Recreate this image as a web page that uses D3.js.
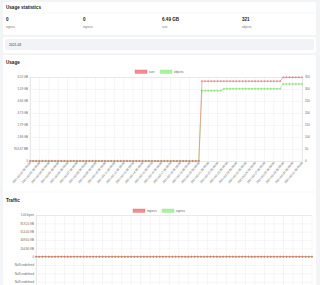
<!DOCTYPE html>
<html>
<head>
<meta charset="utf-8">
<script src="https://cdn.jsdelivr.net/npm/d3@7"></script>
<style>
  body { margin: 0; background: #f3f4f6; font-family: "Liberation Sans", Arial, sans-serif; }
  svg { display: block; }
</style>
</head>
<body>
<svg id="chart" width="320" height="285"></svg>
<script>
// summary numbers
const statValues = ["0", "0", "6.49 GB", "321"]
const statNames = ["egress", "ingress", "size", "objects"]
const month = "2021-03"

// time axis (every 8 hours)
const timeLabels = [
  "2021-03-02 08:00:00","2021-03-02 16:00:00",
  "2021-03-03 00:00:00","2021-03-03 08:00:00","2021-03-03 16:00:00",
  "2021-03-04 00:00:00","2021-03-04 08:00:00","2021-03-04 16:00:00",
  "2021-03-05 00:00:00","2021-03-05 08:00:00","2021-03-05 16:00:00",
  "2021-03-06 00:00:00","2021-03-06 08:00:00","2021-03-06 16:00:00",
  "2021-03-07 00:00:00","2021-03-07 08:00:00","2021-03-07 16:00:00",
  "2021-03-08 00:00:00","2021-03-08 08:00:00","2021-03-08 16:00:00",
  "2021-03-09 00:00:00","2021-03-09 08:00:00","2021-03-09 16:00:00",
  "2021-03-10 00:00:00","2021-03-10 08:00:00","2021-03-10 16:00:00",
  "2021-03-11 00:00:00","2021-03-11 08:00:00","2021-03-11 16:00:00",
  "2021-03-12 00:00:00","2021-03-12 08:00:00","2021-03-12 16:00:00",
  "2021-03-13 00:00:00","2021-03-13 08:00:00","2021-03-13 16:00:00",
  "2021-03-14 00:00:00","2021-03-14 08:00:00","2021-03-14 16:00:00",
  "2021-03-15 00:00:00","2021-03-15 08:00:00","2021-03-15 16:00:00",
  "2021-03-16 00:00:00","2021-03-16 08:00:00","2021-03-16 16:00:00",
  "2021-03-17 00:00:00","2021-03-17 08:00:00","2021-03-17 16:00:00",
  "2021-03-18 00:00:00","2021-03-18 08:00:00","2021-03-18 16:00:00",
  "2021-03-19 00:00:00","2021-03-19 08:00:00","2021-03-19 16:00:00",
  "2021-03-20 00:00:00","2021-03-20 08:00:00","2021-03-20 16:00:00",
  "2021-03-21 00:00:00","2021-03-21 08:00:00","2021-03-21 16:00:00",
  "2021-03-22 00:00:00","2021-03-22 08:00:00","2021-03-22 16:00:00",
  "2021-03-23 00:00:00","2021-03-23 08:00:00","2021-03-23 16:00:00",
  "2021-03-24 00:00:00","2021-03-24 08:00:00","2021-03-24 16:00:00",
  "2021-03-25 00:00:00","2021-03-25 08:00:00","2021-03-25 16:00:00",
  "2021-03-26 00:00:00","2021-03-26 08:00:00","2021-03-26 16:00:00",
  "2021-03-27 00:00:00","2021-03-27 08:00:00","2021-03-27 16:00:00",
  "2021-03-28 00:00:00","2021-03-28 08:00:00","2021-03-28 16:00:00",
  "2021-03-29 00:00:00","2021-03-29 08:00:00","2021-03-29 16:00:00",
  "2021-03-30 00:00:00","2021-03-30 08:00:00","2021-03-30 16:00:00",
  "2021-03-31 00:00:00","2021-03-31 08:00:00"
]

// usage: bytes stored
const sizeValues = [
  0,0,0,0,0,0,0,0,0,0, 0,0,0,0,0,0,0,0,0,0,
  0,0,0,0,0,0,0,0,0,0, 0,0,0,0,0,0,0,0,0,0,
  0,0,0,0,0,0,0,0,0,0, 0,0,0,0,0,
  6.65e9,6.65e9,6.65e9,6.65e9,6.65e9,6.65e9,6.65e9,
  6.65e9,6.65e9,6.65e9,6.65e9,6.65e9,6.65e9,6.65e9,6.65e9,6.65e9,6.65e9,
  6.65e9,6.65e9,6.65e9,6.65e9,6.65e9,6.65e9,6.65e9,6.65e9,6.65e9,
  6.97e9,6.97e9,6.97e9,6.97e9,6.97e9,6.97e9,6.97e9
]
// usage: object count
const objectValues = [
  0,0,0,0,0,0,0,0,0,0, 0,0,0,0,0,0,0,0,0,0,
  0,0,0,0,0,0,0,0,0,0, 0,0,0,0,0,0,0,0,0,0,
  0,0,0,0,0,0,0,0,0,0, 0,0,0,0,0,
  293,293,293,293,293,293,293,
  301,301,301,301,301,301,301,301,301,301,
  301,301,301,301,301,301,301,301,301,
  321,321,321,321,321,321,321
]
const sizeTicks = [0, 1e9, 2e9, 3e9, 4e9, 5e9, 6e9, 7e9]
const objectTicks = [0, 50, 100, 150, 200, 250, 300, 350]

// traffic
const ingressValues = [
  0,0,0,0,0,0,0,0,0,0, 0,0,0,0,0,0,0,0,0,0, 0,0,0,0,0,0,0,0,0,0,
  0,0,0,0,0,0,0,0,0,0, 0,0,0,0,0,0,0,0,0,0, 0,0,0,0,0,0,0,0,0,0,
  0,0,0,0,0,0,0,0,0,0, 0,0,0,0,0,0,0,0,0,0, 0,0,0,0,0,0,0,0
]
const egressValues = [
  0,0,0,0,0,0,0,0,0,0, 0,0,0,0,0,0,0,0,0,0, 0,0,0,0,0,0,0,0,0,0,
  0,0,0,0,0,0,0,0,0,0, 0,0,0,0,0,0,0,0,0,0, 0,0,0,0,0,0,0,0,0,0,
  0,0,0,0,0,0,0,0,0,0, 0,0,0,0,0,0,0,0,0,0, 0,0,0,0,0,0,0,0
]
// only the ticks that fall inside the window
const trafficTicks = [1, 0.8, 0.6, 0.4, 0.2, 0, -0.2, -0.4, -0.6]
const trafficTickLabels = ["1.00 bytes", "819.20 KB", "614.40 KB", "409.60 KB", "204.80 KB", "0",
  "NaN undefined", "NaN undefined", "NaN undefined"]

const red = "#f0636f"
const green = "#8ded7c"
const gridColor = "#e8e8e8"
const tickColor = "#666"

const svg = d3.select("#chart")

function fmtBytes(v) {
  if (v === 0) return "0"
  const units = ["bytes", "KB", "MB", "GB", "TB"]
  const i = Math.floor(Math.log(v) / Math.log(1024))
  return (v / Math.pow(1024, i)).toFixed(2) + " " + units[i]
}

// ---- cards ----
svg.append("rect").attr("x", 3).attr("y", 2).attr("width", 313).attr("height", 33)
  .attr("rx", 2).attr("fill", "#fff")
svg.append("text").attr("x", 6).attr("y", 9).attr("font-size", 4.6).attr("font-weight", "bold")
  .attr("fill", "#222").text("Usage statistics")
svg.append("line").attr("x1", 3).attr("x2", 316).attr("y1", 13).attr("y2", 13)
  .attr("stroke", "#eee").attr("stroke-width", 0.5)

const statX = [6, 83, 162, 242]
statValues.forEach((v, i) => {
  svg.append("text").attr("x", statX[i]).attr("y", 21).attr("font-size", 4.6)
    .attr("font-weight", "bold").attr("fill", "#222").text(v)
  svg.append("text").attr("x", statX[i]).attr("y", 27.5).attr("font-size", 3)
    .attr("fill", "#777").text(statNames[i])
})

svg.append("rect").attr("x", 3).attr("y", 37).attr("width", 313).attr("height", 16)
  .attr("rx", 2).attr("fill", "#fff")
svg.append("rect").attr("x", 5).attr("y", 39).attr("width", 309).attr("height", 11)
  .attr("rx", 2).attr("fill", "#f1f3f6")
svg.append("text").attr("x", 9).attr("y", 45.8).attr("font-size", 3.3).attr("fill", "#333").text(month)

svg.append("rect").attr("x", 3).attr("y", 55).attr("width", 313).attr("height", 240)
  .attr("rx", 2).attr("fill", "#fff")
svg.append("line").attr("x1", 3).attr("x2", 316).attr("y1", 192).attr("y2", 192)
  .attr("stroke", "#f0f0f0").attr("stroke-width", 0.5)

// ---- helpers ----
function legend(y, items) {
  items.forEach(it => {
    svg.append("rect").attr("x", it.x).attr("y", y).attr("width", 12).attr("height", 3.4)
      .attr("fill", it.color).attr("fill-opacity", 0.75).attr("stroke", it.color).attr("stroke-width", 0.4)
    svg.append("text").attr("x", it.x + 14).attr("y", y + 2.8).attr("font-size", 3)
      .attr("fill", tickColor).text(it.label)
  })
}

function xAxisLabels(x, y0) {
  const g = svg.append("g")
  timeLabels.forEach((t, i) => {
    if (i % 3 !== 0) return
    g.append("text")
      .attr("transform", `translate(${x(i) + 1},${y0 + 2}) rotate(-50)`)
      .attr("text-anchor", "end").attr("font-size", 2.9).attr("fill", tickColor).text(t)
  })
}

function series(x, y, values, color, alpha) {
  const g = svg.append("g").attr("opacity", alpha)
  g.append("path").datum(values)
    .attr("d", d3.line().x((d, i) => x(i)).y(d => y(d)))
    .attr("fill", "none").attr("stroke", color).attr("stroke-width", 0.7)
  g.selectAll("circle").data(values).enter().append("circle")
    .attr("cx", (d, i) => x(i)).attr("cy", d => y(d)).attr("r", 0.75)
    .attr("fill", color).attr("stroke", d3.color(color).darker(0.6)).attr("stroke-width", 0.3)
}

// ---- usage chart ----
svg.append("text").attr("x", 6).attr("y", 64).attr("font-size", 4.6).attr("font-weight", "bold")
  .attr("fill", "#222").text("Usage")
legend(70, [{x: 135, color: red, label: "size"}, {x: 160, color: green, label: "objects"}])

const ux = d3.scaleLinear().domain([0, timeLabels.length - 1]).range([30, 302])
const uy = d3.scaleLinear().domain([0, 7e9]).range([161, 77])
const uy2 = d3.scaleLinear().domain([0, 350]).range([161, 77])

const uGridX = svg.append("g")
timeLabels.forEach((t, i) => {
  if (i % 3 !== 0) return
  uGridX.append("line").attr("x1", ux(i)).attr("x2", ux(i)).attr("y1", 77).attr("y2", 163)
    .attr("stroke", gridColor).attr("stroke-width", 0.4)
})
svg.append("g").attr("transform", "translate(30,0)")
  .call(d3.axisLeft(uy).tickValues(sizeTicks).tickSize(-272).tickFormat(fmtBytes))
  .call(g => g.select(".domain").attr("stroke", "#ccc").attr("stroke-width", 0.4))
  .call(g => g.selectAll(".tick line").attr("stroke", gridColor).attr("stroke-width", 0.4))
  .call(g => g.selectAll(".tick text").attr("x", -2).attr("font-size", 2.9).attr("fill", tickColor)
    .attr("font-family", "Liberation Sans, Arial, sans-serif"))
svg.append("g").attr("transform", "translate(302,0)")
  .call(d3.axisRight(uy2).tickValues(objectTicks).tickSize(0))
  .call(g => g.select(".domain").attr("stroke", "#ccc").attr("stroke-width", 0.4))
  .call(g => g.selectAll(".tick text").attr("x", 3).attr("font-size", 2.9).attr("fill", tickColor)
    .attr("font-family", "Liberation Sans, Arial, sans-serif"))
xAxisLabels(ux, 161)

series(ux, uy2, objectValues, green, 0.9)
series(ux, uy, sizeValues, red, 0.75)

// ---- traffic chart ----
svg.append("text").attr("x", 6).attr("y", 202).attr("font-size", 4.6).attr("font-weight", "bold")
  .attr("fill", "#222").text("Traffic")
legend(209, [{x: 133, color: red, label: "ingress"}, {x: 162, color: green, label: "egress"}])

const tx = d3.scaleLinear().domain([0, timeLabels.length - 1]).range([36, 312])
const ty = d3.scaleLinear().domain([-1, 1]).range([298.3, 215])

timeLabels.forEach((t, i) => {
  if (i % 3 !== 0) return
  svg.append("line").attr("x1", tx(i)).attr("x2", tx(i)).attr("y1", 215).attr("y2", 300)
    .attr("stroke", gridColor).attr("stroke-width", 0.4)
})
svg.append("g").attr("transform", "translate(36,0)")
  .call(d3.axisLeft(ty).tickValues(trafficTicks).tickSize(-276)
    .tickFormat((d, i) => trafficTickLabels[i]))
  .call(g => g.select(".domain").attr("stroke", "#ccc").attr("stroke-width", 0.4))
  .call(g => g.selectAll(".tick line").attr("stroke", gridColor).attr("stroke-width", 0.4))
  .call(g => g.selectAll(".tick text").attr("x", -2).attr("font-size", 2.9).attr("fill", tickColor)
    .attr("font-family", "Liberation Sans, Arial, sans-serif"))

series(tx, ty, egressValues, green, 0.9)
series(tx, ty, ingressValues, red, 0.75)
</script>
</body>
</html>
